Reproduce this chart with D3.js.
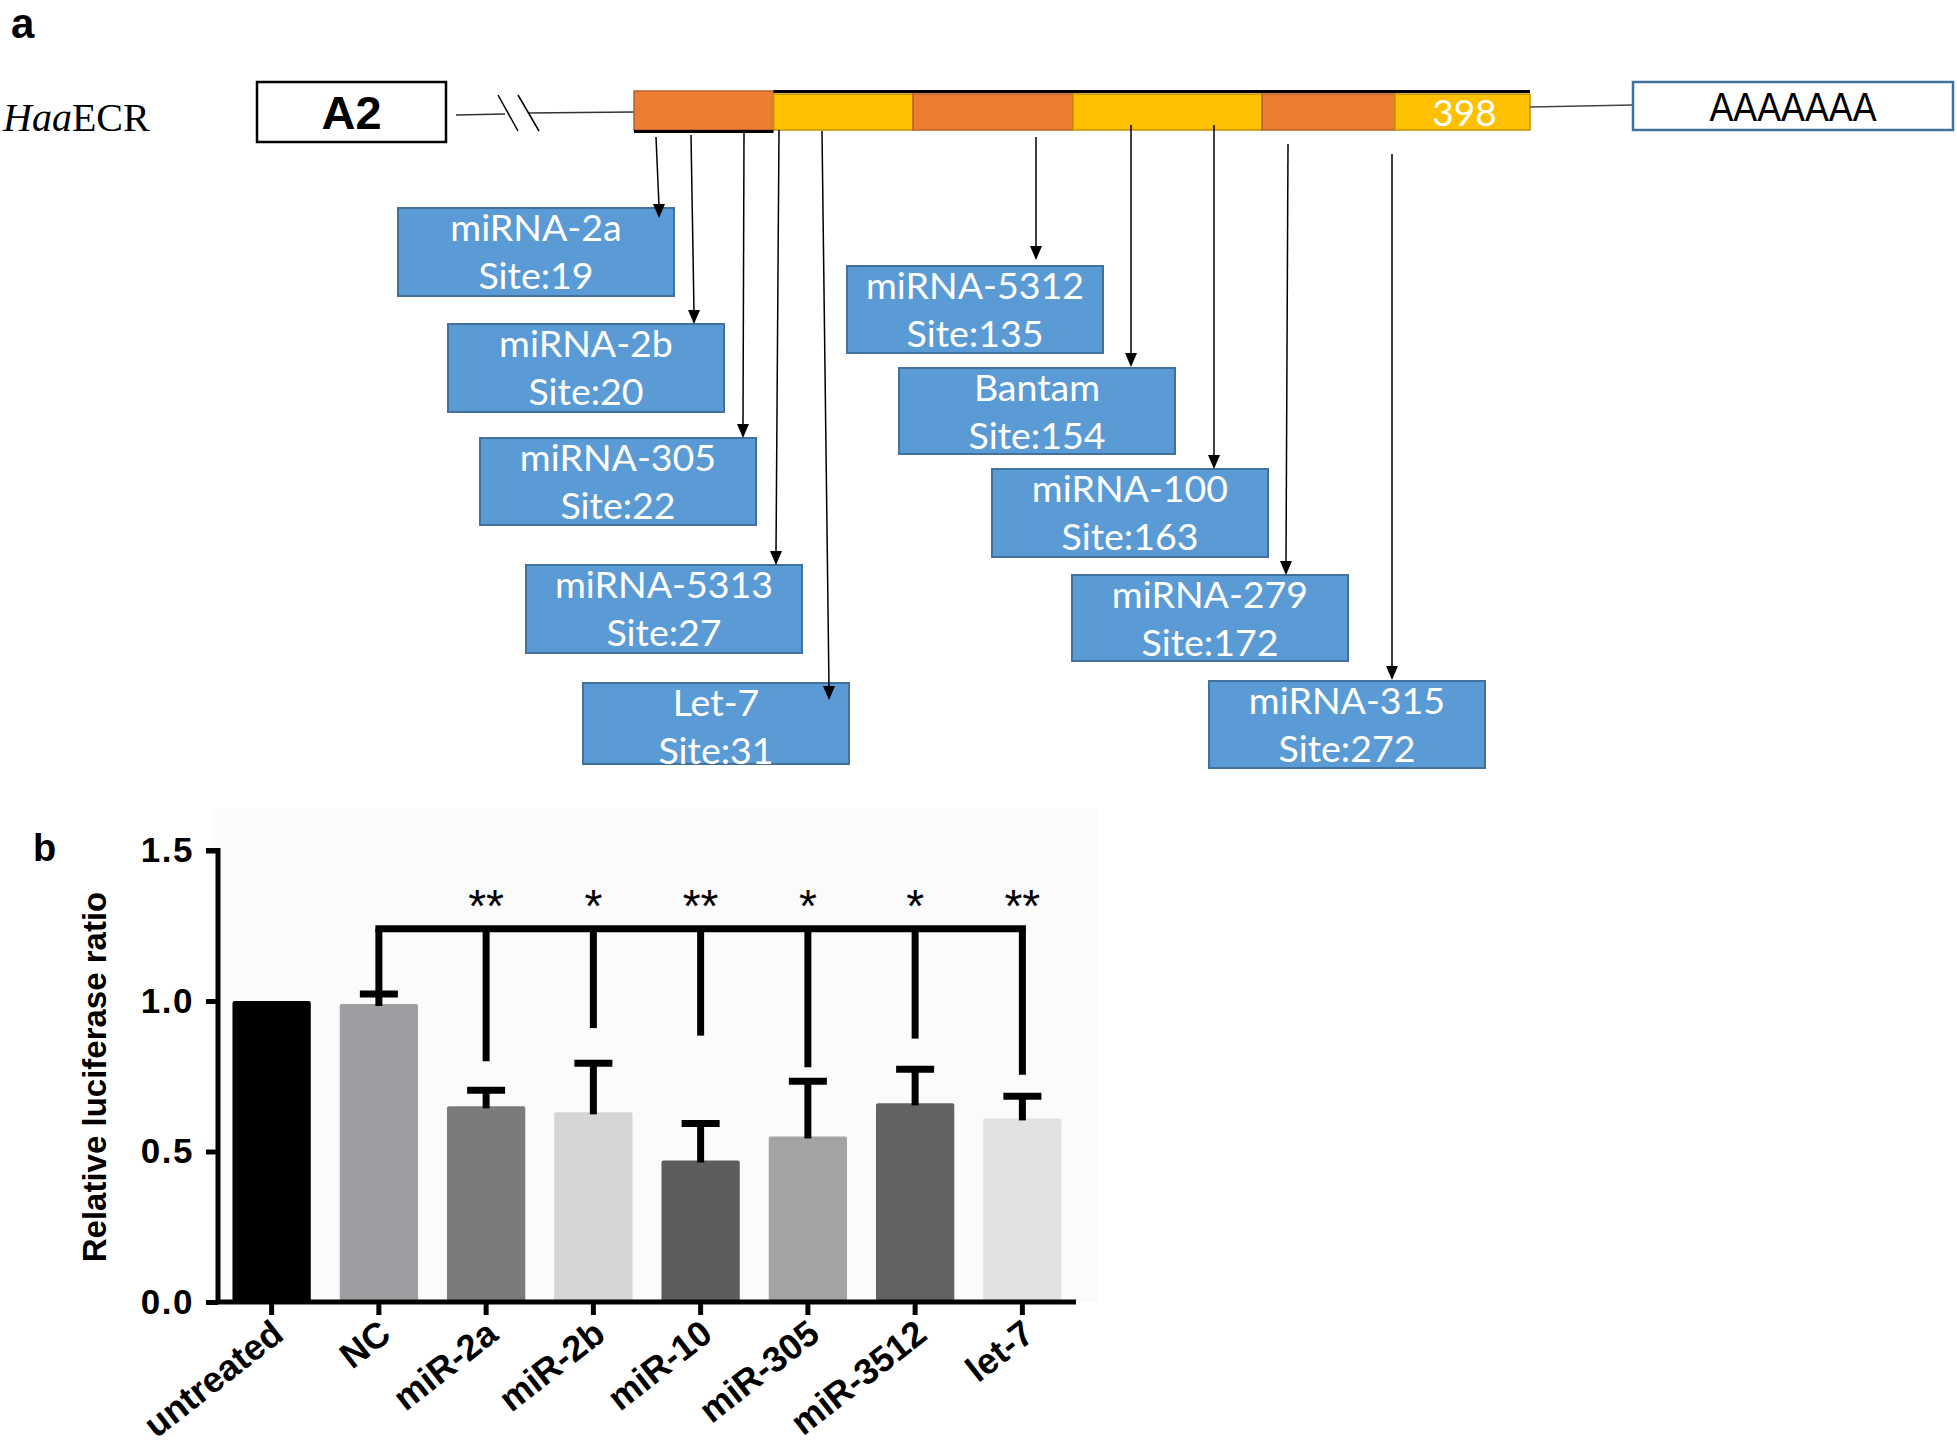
<!DOCTYPE html>
<html>
<head>
<meta charset="utf-8">
<script src="https://cdn.jsdelivr.net/npm/d3@7"></script>
<style>
  html, body { margin: 0; padding: 0; background: #ffffff; }
  svg { display: block; }
</style>
</head>
<body>
<svg id="fig" width="1957" height="1450"></svg>
<script>
// ---------------- DATA ----------------
// Panel a: predicted miRNA binding sites on HaaECR 3'UTR (398 nt)
const siteNames = ["miRNA-2a","miRNA-2b","miRNA-305","miRNA-5313","Let-7",
                   "miRNA-5312","Bantam","miRNA-100","miRNA-279","miRNA-315"];
const sitePositions = [19, 20, 22, 27, 31, 135, 154, 163, 172, 272];
const utrLength = 398;

// Panel b: relative luciferase ratio
const categories = ["untreated","NC","miR-2a","miR-2b","miR-10","miR-305","miR-3512","let-7"];
const meanValues = [1.00, 0.99, 0.65, 0.63, 0.47, 0.55, 0.66, 0.61];
const errorValues = [0.00, 0.04, 0.06, 0.17, 0.13, 0.19, 0.12, 0.08];
const significance = ["", "", "**", "*", "**", "*", "*", "**"];
const bracketLevel = 1.24;
const bracketDropEnds = [null, 1.03, 0.80, 0.91, 0.885, 0.78, 0.875, 0.755];
const yTickValues = [0.0, 0.5, 1.0, 1.5];

// ---------------- STYLE / LAYOUT ----------------
const barColors = ["#000000","#9e9ea2","#7b7b7b","#d5d5d5","#5d5d5d","#a3a3a6","#626262","#e2e2e2"];
const boxFill = "#5B9BD5", boxStroke = "#41719C";
const orange = "#ED7D31", orangeStroke = "#B8602A";
const yellow = "#FFC000", yellowStroke = "#C49400";
const labelFont = "Lato, 'Open Sans', sans-serif";

const svg = d3.select("#fig");

// ======== Panel a ========
const gA = svg.append("g");

gA.append("text").attr("x", 11).attr("y", 38)
  .style("font-family", "'Liberation Sans Narrow', 'Liberation Sans', Arial, sans-serif")
  .style("font-weight", "bold").style("font-size", "42px").text("a");

const geneLabel = gA.append("text").attr("x", 3).attr("y", 131)
  .style("font-family", "'Liberation Serif', 'Times New Roman', serif")
  .style("font-size", "40px");
geneLabel.append("tspan").style("font-style", "italic").text("Haa");
geneLabel.append("tspan").text("ECR");

// A2 box
gA.append("rect").attr("x", 257).attr("y", 82).attr("width", 189).attr("height", 60)
  .attr("fill", "#fff").attr("stroke", "#000").attr("stroke-width", 2.5);
gA.append("text").attr("x", 351.5).attr("y", 129).attr("text-anchor", "middle")
  .style("font-family", "'Liberation Sans Narrow', 'Liberation Sans', Arial, sans-serif")
  .style("font-weight", "bold").style("font-size", "47px")
  .attr("textLength", 60).attr("lengthAdjust", "spacingAndGlyphs").text("A2");

// connector with break
gA.append("line").attr("x1", 456).attr("y1", 115).attr("x2", 505).attr("y2", 114)
  .attr("stroke", "#333").attr("stroke-width", 1.5);
gA.append("line").attr("x1", 528).attr("y1", 113).attr("x2", 634).attr("y2", 112)
  .attr("stroke", "#333").attr("stroke-width", 1.5);
gA.append("line").attr("x1", 498).attr("y1", 95).attr("x2", 518).attr("y2", 131)
  .attr("stroke", "#000").attr("stroke-width", 1.5);
gA.append("line").attr("x1", 518).attr("y1", 95).attr("x2", 539).attr("y2", 131)
  .attr("stroke", "#000").attr("stroke-width", 1.5);

// UTR bar: schematic scale from nucleotide-like units to pixels
const utrX = d3.scaleLinear().domain([0, utrLength]).range([634, 1530]);
const segBounds = [0, 62, 124, 195, 279, 338, 398];
const segTypes = ["o","y","o","y","o","y"];
segTypes.forEach((t, i) => {
  const x0 = utrX(segBounds[i]), x1 = utrX(segBounds[i+1]);
  const top = i === 0 ? 91 : 94;
  gA.append("rect").attr("x", x0).attr("y", top).attr("width", x1 - x0).attr("height", 130 - top)
    .attr("fill", t === "o" ? orange : yellow)
    .attr("stroke", t === "o" ? orangeStroke : yellowStroke).attr("stroke-width", 1.5);
});
gA.append("line").attr("x1", utrX(segBounds[1])).attr("y1", 91.5).attr("x2", utrX(398)).attr("y2", 91.5)
  .attr("stroke", "#000").attr("stroke-width", 3);
gA.append("line").attr("x1", utrX(0)).attr("y1", 131.5).attr("x2", utrX(segBounds[1])).attr("y2", 131.5)
  .attr("stroke", "#000").attr("stroke-width", 3);
gA.append("text").attr("x", (utrX(segBounds[5]) + utrX(398)) / 2 + 2).attr("y", 126)
  .attr("text-anchor", "middle").attr("fill", "#fff")
  .style("font-family", labelFont).style("font-size", "37px").text(utrLength);

// poly-A
gA.append("line").attr("x1", 1530).attr("y1", 107).attr("x2", 1633).attr("y2", 105)
  .attr("stroke", "#444").attr("stroke-width", 1.5);
gA.append("rect").attr("x", 1633).attr("y", 82).attr("width", 320).attr("height", 48)
  .attr("fill", "#fff").attr("stroke", "#41719C").attr("stroke-width", 2.5);
gA.append("text").attr("x", 1793).attr("y", 121).attr("text-anchor", "middle")
  .style("font-family", "'Liberation Sans Narrow', 'Liberation Sans', Arial, sans-serif")
  .style("font-size", "40px").attr("textLength", 167).attr("lengthAdjust", "spacingAndGlyphs")
  .text("AAAAAAA");

// site boxes layout (pixel boxes) and arrow paths
const boxLayout = [
  {x: 398, y: 208, w: 276, h: 88, ax0: 656, ay0: 137, ax1: 659, ay1: 218},
  {x: 448, y: 324, w: 276, h: 88, ax0: 691, ay0: 135, ax1: 694, ay1: 324},
  {x: 480, y: 438, w: 276, h: 87, ax0: 744, ay0: 132, ax1: 743, ay1: 438},
  {x: 526, y: 565, w: 276, h: 88, ax0: 779, ay0: 130, ax1: 776, ay1: 565},
  {x: 583, y: 683, w: 266, h: 81, ax0: 822, ay0: 131, ax1: 829, ay1: 700},
  {x: 847, y: 266, w: 256, h: 87, ax0: 1036, ay0: 137, ax1: 1036, ay1: 260},
  {x: 899, y: 368, w: 276, h: 86, ax0: 1131, ay0: 125, ax1: 1131, ay1: 367},
  {x: 992, y: 469, w: 276, h: 88, ax0: 1214, ay0: 125, ax1: 1214, ay1: 469},
  {x: 1072, y: 575, w: 276, h: 86, ax0: 1288, ay0: 144, ax1: 1286, ay1: 575},
  {x: 1209, y: 681, w: 276, h: 87, ax0: 1392, ay0: 154, ax1: 1392, ay1: 680}
];

siteNames.forEach((name, i) => {
  const b = boxLayout[i];
  const g = gA.append("g");
  g.append("rect").attr("x", b.x).attr("y", b.y).attr("width", b.w).attr("height", b.h)
    .attr("fill", boxFill).attr("stroke", boxStroke).attr("stroke-width", 2);
  g.append("text").attr("x", b.x + b.w / 2).attr("y", b.y + 33).attr("text-anchor", "middle")
    .attr("fill", "#fff").style("font-family", labelFont).style("font-size", "37.5px").text(name);
  g.append("text").attr("x", b.x + b.w / 2).attr("y", b.y + 81).attr("text-anchor", "middle")
    .attr("fill", "#fff").style("font-family", labelFont).style("font-size", "37.5px")
    .text("Site:" + sitePositions[i]);
});
// arrows drawn on top
siteNames.forEach((name, i) => {
  const b = boxLayout[i];
  gA.append("line").attr("x1", b.ax0).attr("y1", b.ay0).attr("x2", b.ax1).attr("y2", b.ay1 - 12)
    .attr("stroke", "#000").attr("stroke-width", 1.5);
  gA.append("path")
    .attr("d", `M${b.ax1 - 6},${b.ay1 - 14} L${b.ax1 + 6},${b.ay1 - 14} L${b.ax1},${b.ay1} Z`)
    .attr("fill", "#000");
});

// ======== Panel b ========
const gB = svg.append("g");
const left = 218, right = 1076, bottom = 1302;
const y = d3.scaleLinear().domain([0, 1.5]).range([bottom, bottom - 451.5]);
const x = d3.scaleBand().domain(categories).range([left, right])
  .paddingInner(0.27).paddingOuter(0.135);

// faint background
gB.append("rect").attr("x", 212).attr("y", 809).attr("width", 886).attr("height", 493)
  .attr("fill", "#fbfbfb");

gB.append("text").attr("x", 33).attr("y", 861)
  .style("font-family", "'Liberation Sans', Arial, sans-serif")
  .style("font-weight", "bold").style("font-size", "38px").text("b");

// bars
gB.selectAll("rect.bar").data(categories).enter().append("rect").attr("class", "bar")
  .attr("x", d => x(d)).attr("width", x.bandwidth())
  .attr("y", (d, i) => y(meanValues[i]))
  .attr("height", (d, i) => y(0) - y(meanValues[i]))
  .attr("rx", 2)
  .attr("fill", (d, i) => barColors[i]);

// error bars (upper only)
categories.forEach((c, i) => {
  if (errorValues[i] <= 0) return;
  const cx = x(c) + x.bandwidth() / 2;
  const top = y(meanValues[i] + errorValues[i]);
  gB.append("line").attr("x1", cx).attr("x2", cx).attr("y1", y(meanValues[i]) + 2).attr("y2", top)
    .attr("stroke", "#000").attr("stroke-width", 7);
  gB.append("line").attr("x1", cx - 19).attr("x2", cx + 19).attr("y1", top + 2).attr("y2", top + 2)
    .attr("stroke", "#000").attr("stroke-width", 7);
});

// significance bracket
const cxOf = c => x(c) + x.bandwidth() / 2;
gB.append("line").attr("x1", cxOf("NC") - 3.5).attr("x2", cxOf("let-7") + 3.5)
  .attr("y1", y(bracketLevel)).attr("y2", y(bracketLevel))
  .attr("stroke", "#000").attr("stroke-width", 7);
categories.forEach((c, i) => {
  if (bracketDropEnds[i] == null) return;
  gB.append("line").attr("x1", cxOf(c)).attr("x2", cxOf(c))
    .attr("y1", y(bracketLevel)).attr("y2", y(bracketDropEnds[i]))
    .attr("stroke", "#000").attr("stroke-width", 7);
  if (significance[i]) {
    gB.append("text").attr("x", cxOf(c)).attr("y", y(bracketLevel) - 7)
      .attr("text-anchor", "middle")
      .style("font-family", "'Liberation Sans', Arial, sans-serif")
      .style("font-size", "46px").text(significance[i]);
  }
});

// y axis
const yAxis = gB.append("g").attr("transform", `translate(${left},0)`)
  .call(d3.axisLeft(y).tickValues(yTickValues).tickFormat(d3.format(".1f")).tickSize(12).tickPadding(12));
yAxis.select(".domain").attr("stroke-width", 5).attr("d", `M-12,${y(1.5)}H0V${bottom}`);
yAxis.selectAll(".tick line").attr("stroke-width", 5);
yAxis.selectAll(".tick text")
  .style("font-family", "'Liberation Sans', Arial, sans-serif")
  .style("font-weight", "bold").style("font-size", "35px").attr("letter-spacing", "1.5px");

// x axis
const xAxis = gB.append("g").attr("transform", `translate(0,${bottom})`)
  .call(d3.axisBottom(x).tickSize(13).tickPadding(0));
xAxis.select(".domain").attr("stroke-width", 5).attr("d", `M${left - 2},0H${right}`);
xAxis.selectAll(".tick line").attr("stroke-width", 5);
xAxis.selectAll(".tick text")
  .style("font-family", "'Liberation Sans', Arial, sans-serif")
  .style("font-weight", "bold").style("font-size", "36px")
  .attr("text-anchor", "end").attr("dy", null).attr("y", 0)
  .attr("transform", "translate(14,36) rotate(-38)");

// y axis title
gB.append("text").attr("transform", "translate(106,1077) rotate(-90)")
  .attr("text-anchor", "middle")
  .style("font-family", "'Liberation Sans', Arial, sans-serif")
  .style("font-weight", "bold").style("font-size", "33px")
  .text("Relative luciferase ratio");
</script>
</body>
</html>
